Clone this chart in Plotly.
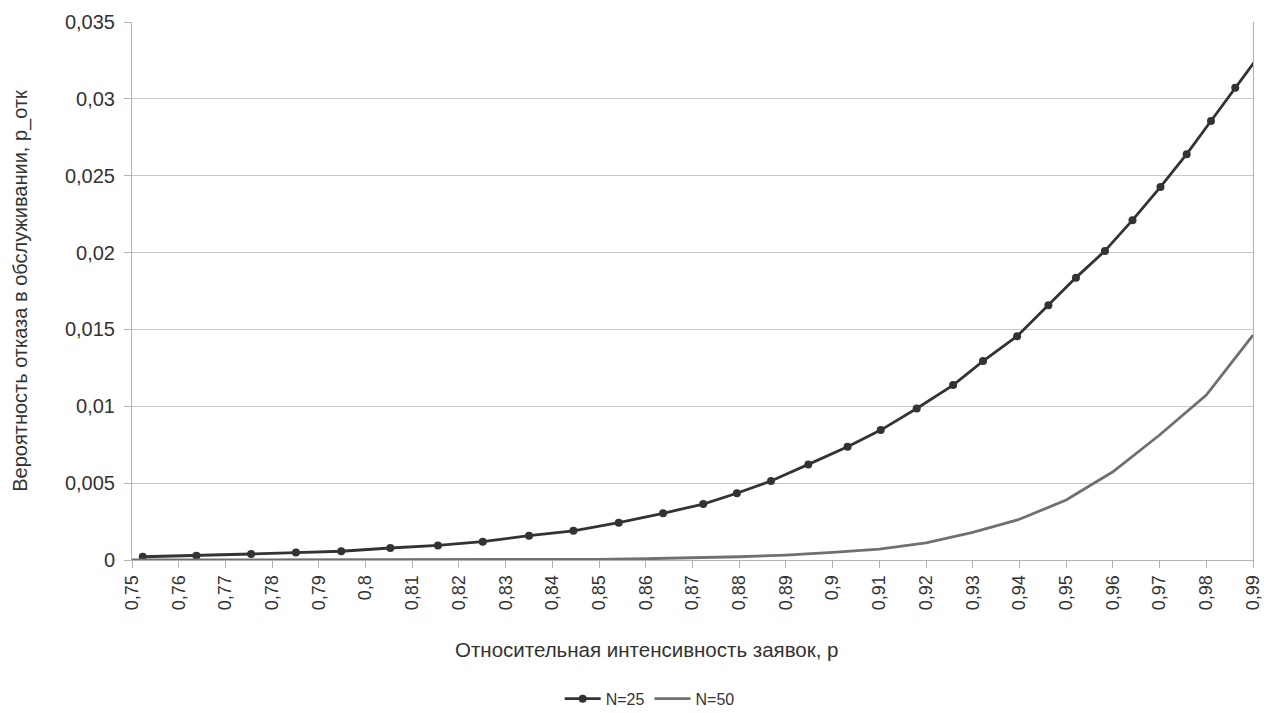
import plotly.graph_objects as go

# N=25 series (points with markers)
x_n25 = [0.7523, 0.7638, 0.7755, 0.7851, 0.7948, 0.8053, 0.8155, 0.8251, 0.8350,
         0.8445, 0.8542, 0.8637, 0.8723, 0.8795, 0.8868, 0.8948, 0.9032, 0.9103,
         0.9180, 0.9258, 0.9322, 0.9395, 0.9462, 0.9521, 0.9583, 0.9642, 0.9702,
         0.9758, 0.9810, 0.9862, 0.9914]
y_n25 = [0.00021, 0.00028, 0.00039, 0.00048, 0.00057, 0.00078, 0.00095, 0.00119, 0.00158,
         0.00190, 0.00243, 0.00304, 0.00364, 0.00434, 0.00514, 0.00622, 0.00737, 0.00845,
         0.00986, 0.01138, 0.01294, 0.01456, 0.01658, 0.01837, 0.02011, 0.02211, 0.02427,
         0.02640, 0.02856, 0.03073, 0.03285]

# N=50 series (line only)
x_n50 = [0.75, 0.76, 0.77, 0.78, 0.79, 0.80, 0.81, 0.82, 0.83, 0.84, 0.85, 0.86, 0.87,
         0.88, 0.89, 0.90, 0.91, 0.92, 0.93, 0.94, 0.95, 0.96, 0.97, 0.98, 0.99]
y_n50 = [0.0000002, 0.0000003, 0.0000006, 0.000001, 0.000002, 0.000003, 0.000005, 0.000009,
         0.000015, 0.000026, 0.000045, 0.00008, 0.00013, 0.00021, 0.00032, 0.00049, 0.00071,
         0.00112, 0.00180, 0.00265, 0.0039, 0.00574, 0.00813, 0.01073, 0.01463]

x_tickvals = [0.75, 0.76, 0.77, 0.78, 0.79, 0.80, 0.81, 0.82, 0.83, 0.84, 0.85, 0.86, 0.87,
              0.88, 0.89, 0.90, 0.91, 0.92, 0.93, 0.94, 0.95, 0.96, 0.97, 0.98, 0.99]
x_ticktext = ["0,75", "0,76", "0,77", "0,78", "0,79", "0,8", "0,81", "0,82", "0,83", "0,84",
              "0,85", "0,86", "0,87", "0,88", "0,89", "0,9", "0,91", "0,92", "0,93", "0,94",
              "0,95", "0,96", "0,97", "0,98", "0,99"]
y_tickvals = [0, 0.005, 0.01, 0.015, 0.02, 0.025, 0.03, 0.035]
y_ticktext = ["0", "0,005", "0,01", "0,015", "0,02", "0,025", "0,03", "0,035"]

x_title = "Относительная интенсивность заявок, р"
y_title = "Вероятность отказа в обслуживании, р_отк"

FONT = "Liberation Sans, Arial, sans-serif"

fig = go.Figure()
fig.add_trace(go.Scatter(
    x=x_n25, y=y_n25, name="N=25", mode="lines+markers",
    line=dict(color="#333333", width=2.8),
    marker=dict(color="#333333", size=8),
))
fig.add_trace(go.Scatter(
    x=x_n50, y=y_n50, name="N=50", mode="lines",
    line=dict(color="#707070", width=2.8),
))

fig.add_annotation(
    text=x_title, xref="paper", yref="paper", x=0.459, y=-0.167,
    xanchor="center", yanchor="middle", showarrow=False,
    font=dict(size=20.5, color="#333333"),
)

fig.update_layout(
    width=1264, height=713,
    margin=dict(l=132, r=11, t=22, b=153, autoexpand=False),
    paper_bgcolor="white", plot_bgcolor="white",
    font=dict(family=FONT, color="#333333", size=18),
    hovermode=False,
    showlegend=True,
    legend=dict(orientation="h", x=0.514, xanchor="center", xref="container",
                y=-0.258, yanchor="middle", yref="paper",
                font=dict(size=16, color="#333333"), itemwidth=36),
    xaxis=dict(
        range=[0.75, 0.990001], tickmode="array", tickvals=x_tickvals, ticktext=x_ticktext,
        tickangle=-90, ticks="outside", ticklen=7, tickcolor="#b3b3b3",
        ticklabeloverflow="allow",
        showgrid=False, zeroline=False,
        showline=True, linecolor="#b3b3b3", linewidth=1,
        tickfont=dict(size=18, color="#333333"),
    ),
    yaxis=dict(
        range=[0, 0.035], tickmode="array", tickvals=y_tickvals, ticktext=y_ticktext,
        ticks="outside", ticklen=7, tickcolor="#b3b3b3", ticklabelstandoff=5,
        showgrid=True, gridcolor="#c8c8c8", gridwidth=1, zeroline=False,
        showline=True, linecolor="#b3b3b3", linewidth=1, mirror=True,
        tickfont=dict(size=20, color="#333333"),
        title=dict(text=y_title, font=dict(size=20, color="#333333"), standoff=31),
    ),
)

# remove the default page margin so the figure sits at the top-left corner
fig.write_html("out.html", config={"displayModeBar": False},
               post_script="document.body.style.margin='0';")
